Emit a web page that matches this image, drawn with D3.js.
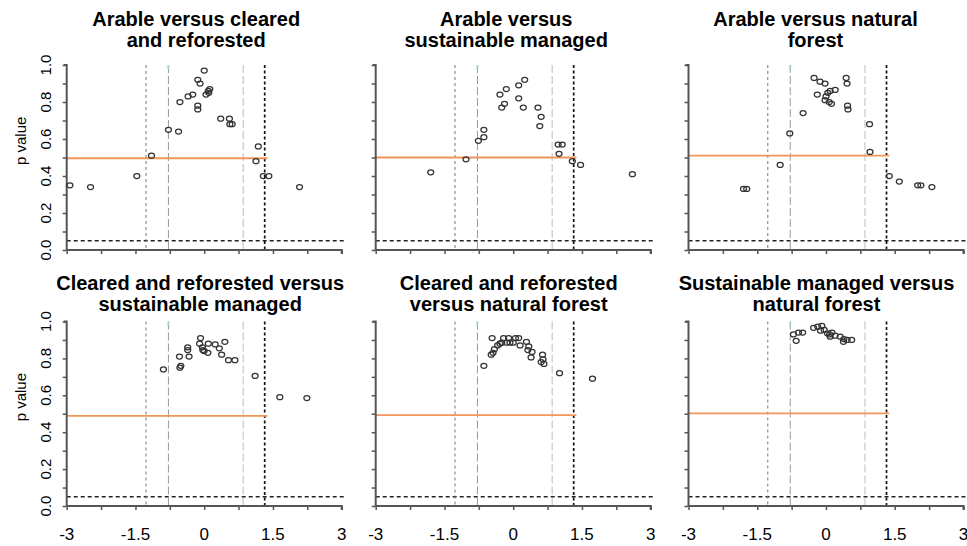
<!DOCTYPE html>
<html>
<head>
<meta charset="utf-8">
<script src="https://cdn.jsdelivr.net/npm/d3@7"></script>
<style>
  html, body { margin: 0; padding: 0; background: #fff; }
  svg { display: block; font-family: "Liberation Sans", Arial, sans-serif; }
</style>
</head>
<body>
<svg id="chart" width="967" height="546"></svg>
<script>
// ---------------- DATA ----------------
const panelTitles = [
  ["Arable versus cleared", "and reforested"],
  ["Arable versus", "sustainable managed"],
  ["Arable versus natural", "forest"],
  ["Cleared and reforested versus", "sustainable managed"],
  ["Cleared and reforested", "versus natural forest"],
  ["Sustainable managed versus", "natural forest"]
];

const xTickValues = [-3, -2.25, -1.5, -0.75, 0, 0.75, 1.5, 2.25, 3];
const xTickLabels = ["-3", "", "-1.5", "", "0", "", "1.5", "", "3"];
const yTickValues = [0, 0.1, 0.2, 0.3, 0.4, 0.5, 0.6, 0.7, 0.8, 0.9, 1.0];
const yTickLabels = ["0.0", "", "0.2", "", "0.4", "", "0.6", "", "0.8", "", "1.0"];
const yAxisTitle = "p value";

// reference lines (x positions of the vertical lines, p-value lines)
const quantileLines = [-1.27, -0.78, 0.85, 1.32];
const significanceLevel = 0.05;
const orangeLevels = [0.496, 0.50, 0.51, 0.489, 0.493, 0.502];
const orangeEnd = 1.38;

// points: [x, p value]
const arableVsCleared = [
  [-2.93, 0.35], [-2.48, 0.34], [-1.47, 0.40], [-1.15, 0.51], [-0.78, 0.65], [-0.56, 0.64],
  [-0.53, 0.80], [-0.35, 0.83], [-0.25, 0.84], [-0.14, 0.78], [-0.14, 0.76], [-0.14, 0.92],
  [-0.09, 0.90], [0.00, 0.97], [0.04, 0.84], [0.09, 0.86], [0.12, 0.87], [0.10, 0.85],
  [0.36, 0.71], [0.55, 0.71], [0.56, 0.68], [0.61, 0.68], [1.13, 0.48], [1.18, 0.56],
  [1.29, 0.40], [1.41, 0.40], [2.08, 0.34]
];
const arableVsSustainable = [
  [-1.80, 0.42], [-1.03, 0.49], [-0.76, 0.59], [-0.64, 0.61], [-0.64, 0.65], [-0.29, 0.84],
  [-0.15, 0.87], [-0.25, 0.77], [-0.19, 0.79], [0.12, 0.89], [0.25, 0.92], [0.12, 0.82],
  [0.22, 0.77], [0.54, 0.77], [0.61, 0.72], [0.58, 0.67], [0.98, 0.57], [1.07, 0.57],
  [1.00, 0.52], [1.29, 0.48], [1.47, 0.46], [2.60, 0.41]
];
const arableVsNatural = [
  [-1.80, 0.33], [-1.73, 0.33], [-1.00, 0.46], [-0.79, 0.63], [-0.50, 0.74], [-0.26, 0.93],
  [-0.13, 0.91], [-0.02, 0.90], [-0.19, 0.84], [0.00, 0.83], [0.04, 0.85], [0.09, 0.86],
  [0.20, 0.865], [-0.02, 0.81], [0.07, 0.80], [0.12, 0.79], [0.44, 0.93], [0.46, 0.90],
  [0.47, 0.78], [0.48, 0.76], [0.95, 0.68], [0.96, 0.53], [1.38, 0.40], [1.60, 0.37],
  [2.00, 0.35], [2.07, 0.35], [2.31, 0.34]
];
const clearedVsSustainable = [
  [-0.89, 0.74], [-0.53, 0.75], [-0.51, 0.76], [-0.54, 0.81], [-0.33, 0.81], [-0.36, 0.845],
  [-0.36, 0.86], [-0.08, 0.91], [-0.10, 0.88], [-0.04, 0.86], [-0.03, 0.845], [0.08, 0.83],
  [0.09, 0.88], [0.00, 0.84], [0.24, 0.876], [0.33, 0.855], [0.45, 0.89], [0.38, 0.82],
  [0.53, 0.79], [0.67, 0.79], [1.11, 0.705], [1.65, 0.59], [2.24, 0.585]
];
const clearedVsNatural = [
  [-0.64, 0.76], [-0.48, 0.82], [-0.44, 0.83], [-0.46, 0.91], [-0.41, 0.85], [-0.34, 0.87],
  [-0.29, 0.88], [-0.21, 0.91], [-0.10, 0.91], [0.05, 0.91], [0.12, 0.91], [-0.25, 0.885],
  [-0.14, 0.885], [-0.07, 0.885], [0.00, 0.885], [0.15, 0.87], [0.29, 0.89], [0.34, 0.865],
  [0.32, 0.845], [0.41, 0.835], [0.39, 0.805], [0.64, 0.82], [0.65, 0.795], [0.67, 0.77],
  [0.61, 0.78], [1.01, 0.72], [1.73, 0.69]
];
const sustainableVsNatural = [
  [-0.71, 0.93], [-0.60, 0.94], [-0.51, 0.94], [-0.65, 0.895], [-0.27, 0.966], [-0.18, 0.972],
  [-0.09, 0.976], [-0.04, 0.954], [-0.12, 0.95], [0.03, 0.936], [0.08, 0.93], [0.13, 0.94],
  [0.09, 0.918], [0.20, 0.923], [0.31, 0.918], [0.39, 0.905], [0.46, 0.90], [0.56, 0.90],
  [0.38, 0.89]
];
const panelData = [arableVsCleared, arableVsSustainable, arableVsNatural,
                   clearedVsSustainable, clearedVsNatural, sustainableVsNatural];

// ---------------- LAYOUT ----------------
const colX = [66.7, 375.7, 688.5];
const plotW = 275;
const rowTop = [65, 321.5];
const rowH = [185, 184.5];
const titleShift = [-8, -7, -10.5, -4, -4.5, -9.5];
const titleBase = [[25.5, 46.5], [289.5, 311]];
const FONT = '"Liberation Sans", Arial, sans-serif';

const svg = d3.select("#chart");

panelData.forEach((pts, i) => {
  const row = Math.floor(i / 3), col = i % 3;
  const x0 = colX[col], y0 = rowTop[row], h = rowH[row];
  const x = d3.scaleLinear().domain([-3, 3]).range([0, plotW]);
  const y = d3.scaleLinear().domain([0, 1]).range([h, 0]);
  const g = svg.append("g").attr("transform", `translate(${x0},${y0})`);

  // title
  const t = svg.append("text")
    .attr("x", x0 + plotW / 2 + titleShift[i])
    .attr("text-anchor", "middle")
    .style("font-family", FONT).style("font-weight", "bold").style("font-size", "20px")
    .attr("fill", "#000");
  panelTitles[i].forEach((line, k) => {
    t.append("tspan").attr("x", x0 + plotW / 2 + titleShift[i]).attr("y", titleBase[row][k]).text(line);
  });

  // significance dashed line
  g.append("line")
    .attr("x1", x(-3)).attr("x2", x(3.06))
    .attr("y1", y(significanceLevel)).attr("y2", y(significanceLevel))
    .attr("stroke", "#222").attr("stroke-width", 1.4).attr("stroke-dasharray", "4,3");

  // vertical quantile lines
  const vStyles = [
    { c: "#777", w: 1, d: "3,3" },
    { c: "#9a9a9a", w: 1, d: "8,3" },
    { c: "#bdbdbd", w: 1, d: "8,3" },
    { c: "#111", w: 1.7, d: "3,2.5" }
  ];
  quantileLines.forEach((q, k) => {
    g.append("line")
      .attr("x1", x(q)).attr("x2", x(q)).attr("y1", y(1)).attr("y2", y(0))
      .attr("stroke", vStyles[k].c).attr("stroke-width", vStyles[k].w)
      .attr("stroke-dasharray", vStyles[k].d);
  });
  // light blue cap on second line
  g.append("line")
    .attr("x1", x(quantileLines[1])).attr("x2", x(quantileLines[1]))
    .attr("y1", y(1)).attr("y2", y(1) + 4)
    .attr("stroke", "#a9d3e0").attr("stroke-width", 2);

  // orange line
  g.append("line")
    .attr("x1", x(-3)).attr("x2", x(orangeEnd))
    .attr("y1", y(orangeLevels[i])).attr("y2", y(orangeLevels[i]))
    .attr("stroke", "#f2955a").attr("stroke-width", 1.8);

  // axes
  const xAxis = d3.axisBottom(x).tickValues(xTickValues).tickSize(4)
    .tickFormat(() => "");
  const gx = g.append("g").attr("transform", `translate(0,${h})`).call(xAxis);
  gx.select(".domain").attr("stroke", "#555").attr("stroke-width", 2)
    .attr("d", `M${x(-3)},0H${x(3)}V4`);
  gx.selectAll(".tick line").attr("stroke", "#555").attr("stroke-width", 1.5);

  if (row === 1) {
    xTickValues.forEach((v, k) => {
      if (!xTickLabels[k]) return;
      g.append("text")
        .attr("x", x(v)).attr("y", h + 34)
        .attr("text-anchor", "middle")
        .style("font-family", FONT).style("font-size", "17px")
        .attr("fill", "#000").text(xTickLabels[k]);
    });
  }

  const yAxis = d3.axisLeft(y).tickValues(yTickValues).tickSize(4).tickFormat(() => "");
  const gy = g.append("g").call(yAxis);
  gy.select(".domain").attr("stroke", "#555").attr("stroke-width", 2)
    .attr("d", `M-3,${y(1)}H0V${y(0)}`);
  gy.selectAll(".tick line").attr("stroke", "#555").attr("stroke-width", 1.5);

  if (col === 0) {
    yTickValues.forEach((v, k) => {
      if (!yTickLabels[k]) return;
      g.append("text")
        .attr("transform", `translate(-16,${y(v)}) rotate(-90)`)
        .attr("text-anchor", "middle")
        .style("font-family", FONT).style("font-size", "15px")
        .attr("fill", "#000").text(yTickLabels[k]);
    });
    g.append("text")
      .attr("transform", `translate(${26 - x0},${y(0.59)}) rotate(-90)`)
      .attr("text-anchor", "middle")
      .style("font-family", FONT).style("font-size", "15px")
      .attr("fill", "#000").text(yAxisTitle);
  }

  // points
  g.selectAll("ellipse.pt").data(pts).enter().append("ellipse")
    .attr("class", "pt")
    .attr("cx", d => x(d[0])).attr("cy", d => y(d[1]))
    .attr("rx", 3).attr("ry", 2.5)
    .attr("fill", "none").attr("stroke", "#333").attr("stroke-width", 1.25);
});
</script>
</body>
</html>
